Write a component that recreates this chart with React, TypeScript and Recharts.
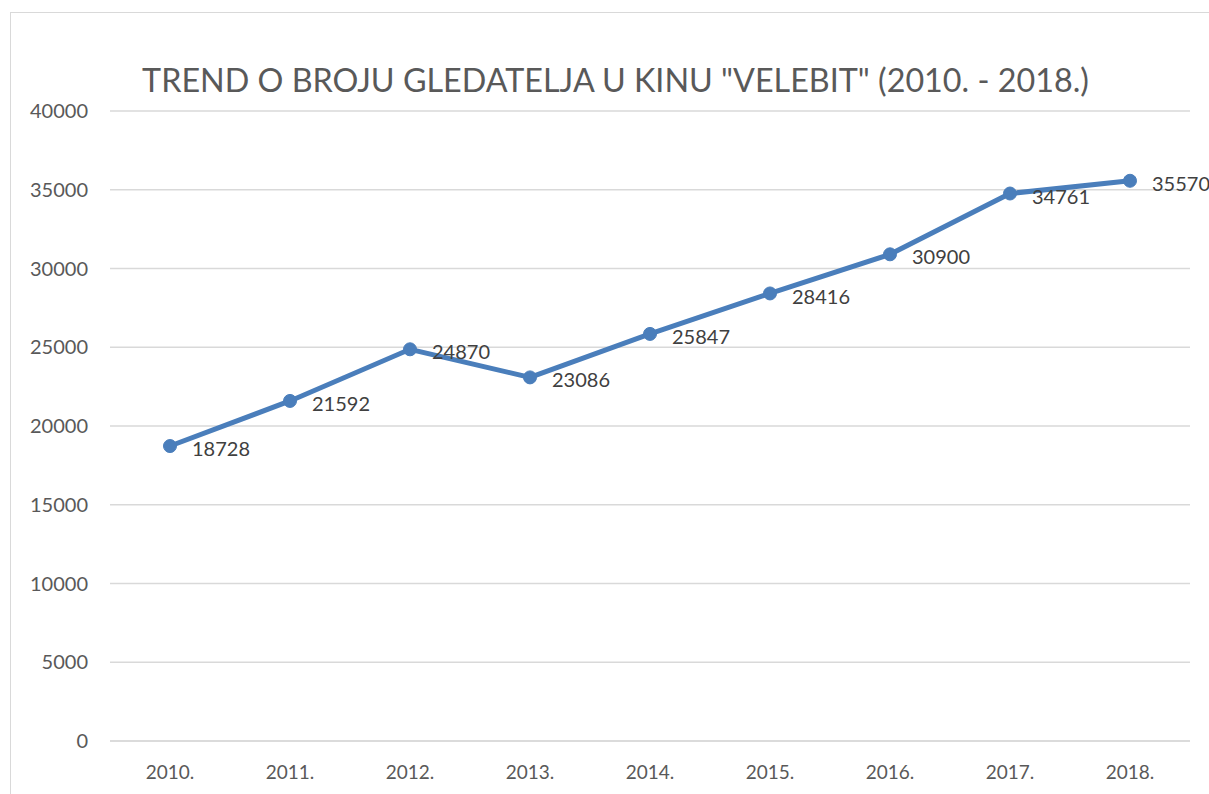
import React from "react"
import {
  CartesianGrid,
  LabelList,
  Line,
  LineChart,
  XAxis,
  YAxis,
} from "recharts"

const years = ["2010.", "2011.", "2012.", "2013.", "2014.", "2015.", "2016.", "2017.", "2018."]
const viewers = [18728, 21592, 24870, 23086, 25847, 28416, 30900, 34761, 35570]
const yTicks = [0, 5000, 10000, 15000, 20000, 25000, 30000, 35000, 40000]

const chartData = years.map((year, i) => ({ year, viewers: viewers[i] }))

const font = "Lato, 'Open Sans', sans-serif"

export default function App() {
  return (
    <div
      style={{
        position: "fixed",
        left: 0,
        top: 0,
        width: 1209,
        height: 794,
        overflow: "hidden",
        background: "#fff",
        fontFamily: font,
      }}
    >
      <div
        style={{
          position: "absolute",
          left: 10,
          top: 12,
          width: 1300,
          height: 900,
          border: "1.5px solid #d9d9d9",
        }}
      />
      <div
        style={{
          position: "absolute",
          left: 0,
          top: 60,
          width: 1231,
          textAlign: "center",
          fontSize: 32.3,
          color: "#595959",
          whiteSpace: "nowrap",
          lineHeight: "40px",
        }}
      >
        TREND O BROJU GLEDATELJA U KINU "VELEBIT" (2010. - 2018.)
      </div>
      <div style={{ position: "absolute", left: 0, top: 0 }}>
        <LineChart
          width={1209}
          height={794}
          data={chartData}
          margin={{ top: 111, right: 19, left: 0, bottom: 0 }}
        >
          <CartesianGrid vertical={false} stroke="#d9d9d9" strokeWidth={1.5} />
          <XAxis
            dataKey="year"
            axisLine={{ stroke: "#d9d9d9", strokeWidth: 1.5 }}
            tickLine={false}
            height={53}
            tickMargin={19}
            padding={{ left: 60, right: 60 }}
            tick={{ fill: "#595959", fontSize: 19, fontFamily: font }}
            interval={0}
          />
          <YAxis
            domain={[0, 40000]}
            ticks={yTicks}
            axisLine={false}
            tickLine={false}
            width={110}
            tickMargin={16}
            tick={{ fill: "#595959", fontSize: 20, fontFamily: font }}
          />
          <Line
            type="linear"
            dataKey="viewers"
            stroke="#4a7ebb"
            strokeWidth={5}
            dot={{ r: 6.5, fill: "#4a7ebb", stroke: "#4a7ebb", strokeWidth: 1 }}
            isAnimationActive={false}
          >
            <LabelList
              dataKey="viewers"
              position="right"
              offset={22}
              dy={3}
              fill="#404040"
              fontSize={20}
              fontFamily={font}
            />
          </Line>
        </LineChart>
      </div>
    </div>
  )
}
